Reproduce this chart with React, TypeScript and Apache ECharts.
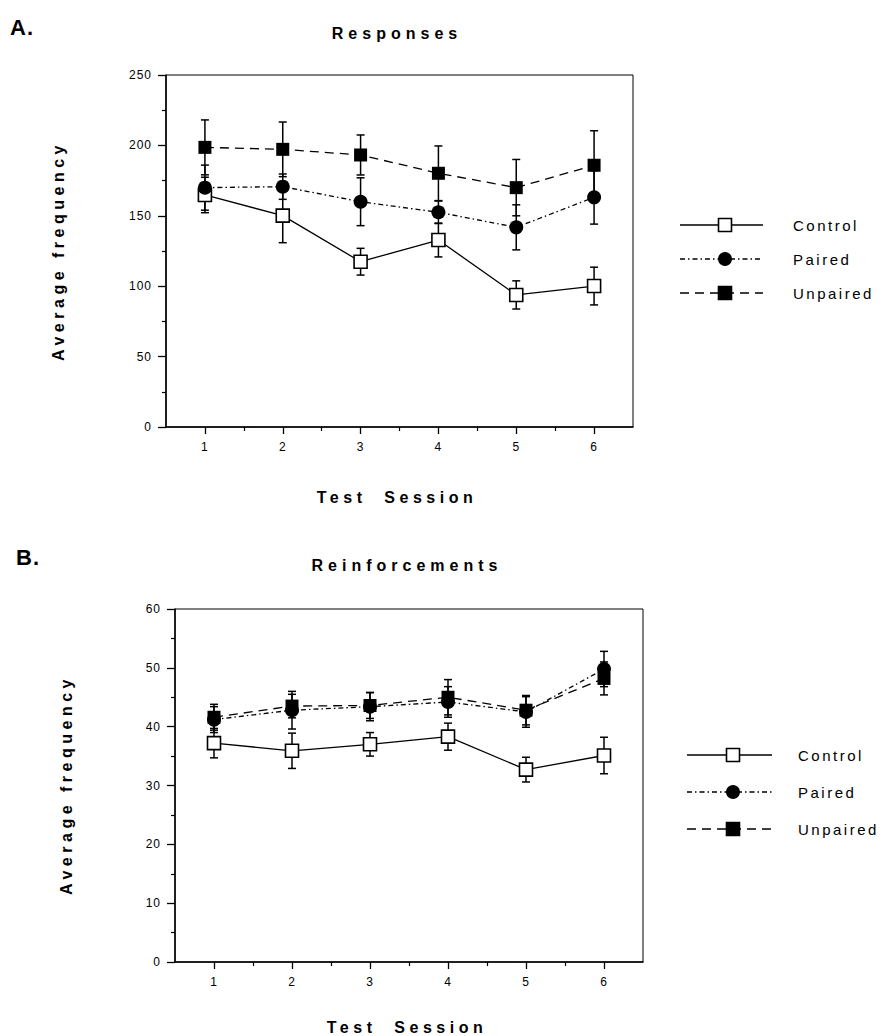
import React, { useEffect, useRef } from "react";
import * as echarts from "echarts";

const sessions = [1, 2, 3, 4, 5, 6];
const minorSessions = [1.5, 2.5, 3.5, 4.5, 5.5];

// Panel A: Responses
const respControl = [164.8, 150.1, 117.4, 132.8, 93.8, 100.1];
const respControlErr = [12.6, 19.2, 9.5, 12, 10, 13.4];
const respPaired = [170, 170.7, 160, 152.5, 141.8, 163.1];
const respPairedErr = [16, 9, 17, 8, 16, 19];
const respUnpaired = [198.6, 197.2, 193.2, 180.2, 170, 185.9];
const respUnpairedErr = [19.5, 19.4, 14.2, 19.4, 20, 24.5];

// Panel B: Reinforcements
const reinControl = [37.2, 35.9, 37.0, 38.3, 32.7, 35.1];
const reinControlErr = [2.5, 3, 2, 2.3, 2.1, 3.1];
const reinPaired = [41.2, 42.8, 43.4, 44.2, 42.5, 49.8];
const reinPairedErr = [2.2, 3.2, 2.4, 2.6, 2.6, 3];
const reinUnpaired = [41.6, 43.5, 43.6, 45, 42.8, 48.2];
const reinUnpairedErr = [2.2, 2, 2.2, 3, 2.5, 2.8];

const groupNames = ["Control", "Paired", "Unpaired"];

const FONT = "'Liberation Sans', Arial, Helvetica, sans-serif";
const BLACK = "#000";

const styles: Record<string, any> = {
  Control: {
    symbol: "rect",
    symbolSize: 13,
    itemStyle: { color: "#fff", borderColor: BLACK, borderWidth: 1.6 },
    lineStyle: { color: BLACK, width: 1.3, type: "solid" },
    z: 3,
  },
  Paired: {
    symbol: "circle",
    symbolSize: 14,
    itemStyle: { color: BLACK, borderColor: BLACK, borderWidth: 0 },
    lineStyle: { color: BLACK, width: 1.3, type: [5, 3, 1.5, 3] },
    z: 4,
  },
  Unpaired: {
    symbol: "rect",
    symbolSize: 13,
    itemStyle: { color: BLACK, borderColor: BLACK, borderWidth: 0 },
    lineStyle: { color: BLACK, width: 1.3, type: [9, 6] },
    z: 5,
  },
};

const letterSpacing: Record<string, number> = {
  Responses: 5,
  Reinforcements: 5,
  "Average frequency": 4.5,
  "Test Session": 4.5,
  Control: 2.5,
  Paired: 2.5,
  Unpaired: 2.5,
  "A.": 1,
  "B.": 1,
};

function errorBarRender(params: any, api: any) {
  const x = api.value(0);
  const m = api.value(1);
  const e = api.value(2);
  const top = api.coord([x, m + e]);
  const bot = api.coord([x, m - e]);
  const cap = 4;
  const st = { stroke: BLACK, lineWidth: 1.5 };
  return {
    type: "group",
    children: [
      { type: "line", shape: { x1: top[0], y1: top[1], x2: bot[0], y2: bot[1] }, style: st },
      { type: "line", shape: { x1: top[0] - cap, y1: top[1], x2: top[0] + cap, y2: top[1] }, style: st },
      { type: "line", shape: { x1: bot[0] - cap, y1: bot[1], x2: bot[0] + cap, y2: bot[1] }, style: st },
    ],
  };
}

function legendGraphics(x1: number, x2: number, mx: number, tx: number, ys: number[]) {
  const out: any[] = [];
  groupNames.forEach((name, i) => {
    const y = ys[i];
    const s = styles[name];
    out.push({
      type: "line",
      shape: { x1, y1: y, x2, y2: y },
      style: { stroke: BLACK, lineWidth: 1.3, lineDash: Array.isArray(s.lineStyle.type) ? s.lineStyle.type : null },
      silent: true,
    });
    if (name === "Paired") {
      out.push({ type: "circle", shape: { cx: mx, cy: y, r: 7 }, style: { fill: BLACK }, silent: true });
    } else {
      out.push({
        type: "rect",
        shape: { x: mx - 6.5, y: y - 6.5, width: 13, height: 13 },
        style: { fill: name === "Control" ? "#fff" : BLACK, stroke: BLACK, lineWidth: 1.6 },
        silent: true,
      });
    }
    out.push({
      type: "text",
      x: tx,
      y,
      style: { text: name, fill: BLACK, fontSize: 15, fontFamily: FONT, align: "left", verticalAlign: "middle" },
      silent: true,
    });
  });
  return out;
}

function textEl(text: string, x: number, y: number, size: number, bold: boolean, rotate = 0, align = "center") {
  return {
    type: "text",
    x,
    y,
    rotation: rotate,
    silent: true,
    style: {
      text,
      fill: BLACK,
      fontSize: size,
      fontWeight: bold ? "bold" : "normal",
      fontFamily: FONT,
      align,
      verticalAlign: "middle",
    },
  };
}

export default function App() {
  const ref = useRef<HTMLDivElement>(null);

  useEffect(() => {
    document.body.style.margin = "0";
    if (!ref.current) return;
    const chart = echarts.init(ref.current, undefined, { renderer: "svg" });

    const grids = [
      { left: 166, top: 75, width: 467, height: 352 },
      { left: 175, top: 609, width: 468, height: 353 },
    ];

    const xAxes: any[] = [];
    const yAxes: any[] = [];
    const yRanges = [
      { max: 250, interval: 50 },
      { max: 60, interval: 10 },
    ];

    grids.forEach((_, gi) => {
      xAxes.push({
        gridIndex: gi,
        type: "value",
        position: "bottom",
        min: 0.5,
        max: 6.5,
        axisLine: { show: true, onZero: false, lineStyle: { color: BLACK, width: 1.5 } },
        axisTick: { show: true, customValues: sessions, length: 7, lineStyle: { color: BLACK, width: 1.3 } },
        axisLabel: { show: true, customValues: sessions, margin: 14, color: BLACK, fontSize: 12, fontFamily: FONT },
        splitLine: { show: false },
      });
      xAxes.push({
        gridIndex: gi,
        type: "value",
        position: "bottom",
        min: 0.5,
        max: 6.5,
        axisLine: { show: false, onZero: false },
        axisTick: { show: true, customValues: minorSessions, length: 4, lineStyle: { color: BLACK, width: 1.2 } },
        axisLabel: { show: false },
        splitLine: { show: false },
      });
      yAxes.push({
        gridIndex: gi,
        type: "value",
        min: 0,
        max: yRanges[gi].max,
        interval: yRanges[gi].interval,
        axisLine: { show: true, onZero: false, lineStyle: { color: BLACK, width: 1.5 } },
        axisTick: { show: true, length: 8, lineStyle: { color: BLACK, width: 1.3 } },
        minorTick: { show: true, splitNumber: 2, length: 4, lineStyle: { color: BLACK, width: 1.2 } },
        axisLabel: { margin: 14, color: BLACK, fontSize: 12, fontFamily: FONT },
        splitLine: { show: false },
        minorSplitLine: { show: false },
      });
    });

    const panels = [
      {
        vals: { Control: respControl, Paired: respPaired, Unpaired: respUnpaired } as Record<string, number[]>,
        errs: { Control: respControlErr, Paired: respPairedErr, Unpaired: respUnpairedErr } as Record<string, number[]>,
      },
      {
        vals: { Control: reinControl, Paired: reinPaired, Unpaired: reinUnpaired } as Record<string, number[]>,
        errs: { Control: reinControlErr, Paired: reinPairedErr, Unpaired: reinUnpairedErr } as Record<string, number[]>,
      },
    ];

    const series: any[] = [];
    panels.forEach((p, gi) => {
      groupNames.forEach((name) => {
        series.push({
          type: "custom",
          name: name + " error",
          xAxisIndex: gi * 2,
          yAxisIndex: gi,
          silent: true,
          z: 2,
          encode: { x: 0, y: 1 },
          data: sessions.map((s, i) => [s, p.vals[name][i], p.errs[name][i]]),
          renderItem: errorBarRender,
        });
      });
      groupNames.forEach((name) => {
        const s = styles[name];
        series.push({
          type: "line",
          name,
          xAxisIndex: gi * 2,
          yAxisIndex: gi,
          silent: true,
          z: s.z,
          symbol: s.symbol,
          symbolSize: s.symbolSize,
          showAllSymbol: true,
          itemStyle: s.itemStyle,
          lineStyle: s.lineStyle,
          data: sessions.map((x, i) => [x, p.vals[name][i]]),
        });
      });
    });

    const graphic: any[] = [
      textEl("A.", 10, 27, 22, true, 0, "left"),
      textEl("Responses", 397, 33, 16, true),
      textEl("Average frequency", 58, 251, 16, true, Math.PI / 2),
      textEl("Test  Session", 397, 497, 16, true),
      textEl("B.", 16, 557, 22, true, 0, "left"),
      textEl("Reinforcements", 407, 565, 16, true),
      textEl("Average frequency", 66, 785, 16, true, Math.PI / 2),
      textEl("Test  Session", 407, 1027, 16, true),
      ...legendGraphics(680, 763, 725, 793, [225, 259, 293]),
      ...legendGraphics(687, 772, 733, 798, [755, 792, 829]),
    ];

    chart.setOption({
      animation: false,
      backgroundColor: "#fff",
      grid: grids.map((g) => ({ ...g, show: true, borderColor: BLACK, borderWidth: 1, backgroundColor: "transparent" })),
      xAxis: xAxes,
      yAxis: yAxes,
      series,
      graphic,
    });

    const applySpacing = () => {
      const texts = ref.current ? ref.current.querySelectorAll("text") : [];
      texts.forEach((t: any) => {
        const content = (t.textContent || "").replace(/\s+/g, " ").trim();
        const sp = letterSpacing[content];
        if (sp) t.setAttribute("letter-spacing", String(sp));
        else if (/^\d+$/.test(content)) t.setAttribute("letter-spacing", "1");
      });
    };
    applySpacing();
    chart.on("finished", applySpacing);

    return () => {
      chart.dispose();
    };
  }, []);

  return <div ref={ref} style={{ width: 887, height: 1036 }} />;
}
